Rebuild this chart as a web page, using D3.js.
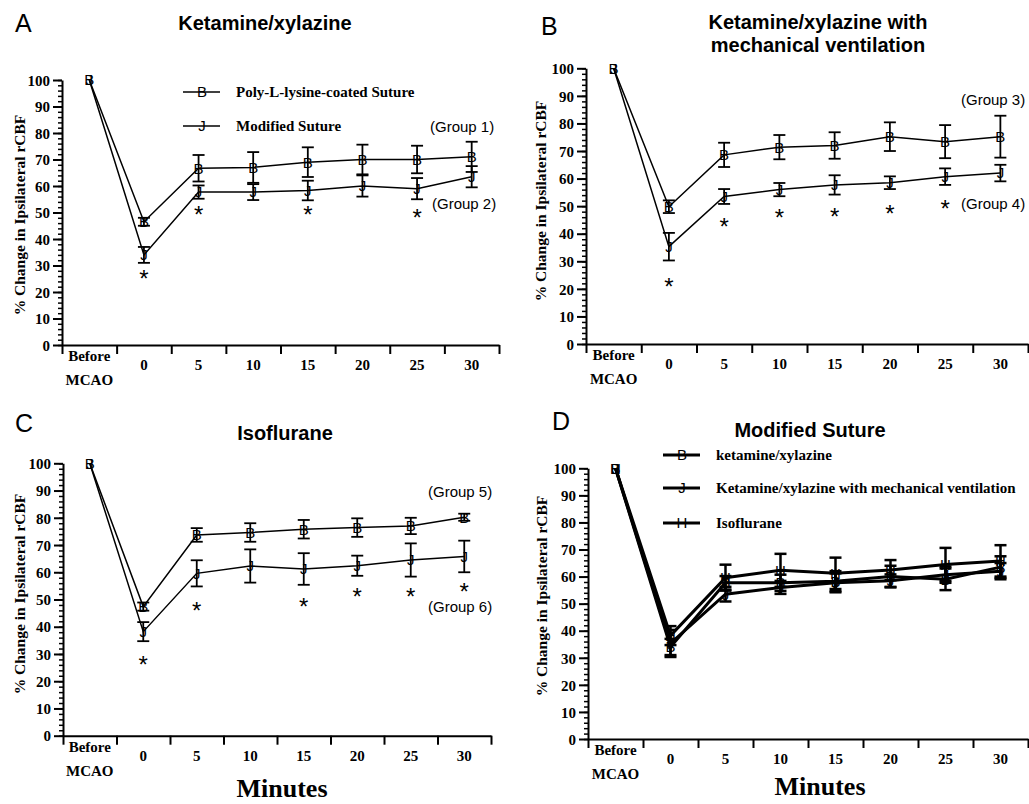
<!DOCTYPE html>
<html>
<head>
<meta charset="utf-8">
<script src="https://cdn.jsdelivr.net/npm/d3@7"></script>
<style>
body { margin: 0; background: #fff; }
svg { display: block; }
</style>
</head>
<body>
<script>
// categories on the x axis (first one is "Before MCAO")
var categories = ["Before", "0", "5", "10", "15", "20", "25", "30"];
var yMajor = d3.range(0, 101, 10);
var yMinor = d3.range(0, 101, 2);

// group means and SEM, % change in ipsilateral rCBF
var g1Mean = [100, 46.5, 66.7, 67.0, 69.0, 70.0, 70.0, 71.0];
var g1Err  = [0, 1.5, 5.0, 5.8, 5.6, 5.6, 5.2, 5.7];
var g2Mean = [100, 34.0, 57.7, 57.7, 58.3, 60.0, 59.0, 63.5];
var g2Err  = [0, 3.0, 2.5, 3.0, 3.7, 4.0, 4.0, 4.0];
var g3Mean = [100, 49.8, 68.6, 71.4, 72.0, 75.2, 73.4, 75.2];
var g3Err  = [0, 2.3, 4.4, 4.4, 4.8, 5.2, 6.0, 7.6];
var g4Mean = [100, 35.3, 53.5, 56.0, 57.7, 58.5, 60.7, 62.0];
var g4Err  = [0, 5.0, 2.7, 2.4, 3.5, 2.3, 3.0, 3.0];
var g5Mean = [100, 47.4, 73.7, 74.6, 75.8, 76.4, 77.0, 80.2];
var g5Err  = [0, 1.5, 2.5, 3.4, 3.4, 3.4, 3.0, 1.3];
var g6Mean = [100, 38.2, 59.6, 62.3, 61.2, 62.4, 64.5, 65.8];
var g6Err  = [0, 3.5, 4.8, 6.1, 5.8, 3.7, 6.1, 5.8];

// significance stars: category index and height (in % units)
var starsA = [[1, 26.8], [2, 51], [4, 51], [6, 50]];
var starsB = [[1, 22.6], [2, 44.4], [3, 47.4], [4, 48], [5, 48.8], [6, 50.8]];
var starsC = [[1, 27.8], [2, 47.5], [4, 49.2], [5, 52.9], [6, 52.9], [7, 54.7]];

var serif = "'Liberation Serif', 'Times New Roman', serif";
var sans = "'Liberation Sans', Arial, sans-serif";

var svg = d3.select("body").append("svg")
    .attr("width", 1029)
    .attr("height", 804);

var panels = [
  { letter: "A", lx: 15, ly: 32, title: ["Ketamine/xylazine"], tx: 265, ty: 30,
    left: 62, right: 499, top: 80, bottom: 345, labY: 215, labX: 25, lw: 1.5,
    series: [{ mean: g1Mean, err: g1Err, glyph: "B" }, { mean: g2Mean, err: g2Err, glyph: "J" }],
    stars: starsA,
    legend: [{ text: "Poly-L-lysine-coated Suture", glyph: "B", x: 183, y: 92 },
             { text: "Modified Suture", glyph: "J", x: 183, y: 126 }],
    groups: [{ text: "(Group 1)", x: 430, y: 132 }, { text: "(Group 2)", x: 432, y: 209 }],
    minutes: null },
  { letter: "B", lx: 541, ly: 35, title: ["Ketamine/xylazine with", "mechanical ventilation"], tx: 818, ty: 29,
    left: 586, right: 1028, top: 68.3, bottom: 344, labY: 201, labX: 546, lw: 1.5,
    series: [{ mean: g3Mean, err: g3Err, glyph: "B" }, { mean: g4Mean, err: g4Err, glyph: "J" }],
    stars: starsB, legend: [],
    groups: [{ text: "(Group 3)", x: 961, y: 105 }, { text: "(Group 4)", x: 961, y: 209 }],
    minutes: null },
  { letter: "C", lx: 15, ly: 432, title: ["Isoflurane"], tx: 285, ty: 440,
    left: 63, right: 491, top: 463.3, bottom: 735.7, labY: 594, labX: 25, lw: 1.5,
    series: [{ mean: g5Mean, err: g5Err, glyph: "B" }, { mean: g6Mean, err: g6Err, glyph: "J" }],
    stars: starsC, legend: [],
    groups: [{ text: "(Group 5)", x: 428, y: 497 }, { text: "(Group 6)", x: 428, y: 612 }],
    minutes: { x: 282, y: 797 } },
  { letter: "D", lx: 552, ly: 430, title: ["Modified Suture"], tx: 810, ty: 437,
    left: 588, right: 1028, top: 468.3, bottom: 739, labY: 596, labX: 547, lw: 3,
    series: [{ mean: g2Mean, err: g2Err, glyph: "B" }, { mean: g4Mean, err: g4Err, glyph: "J" },
             { mean: g6Mean, err: g6Err, glyph: "H" }],
    stars: [],
    legend: [{ text: "ketamine/xylazine", glyph: "B", x: 663, y: 455 },
             { text: "Ketamine/xylazine with mechanical ventilation", glyph: "J", x: 663, y: 488 },
             { text: "Isoflurane", glyph: "H", x: 663, y: 523 }],
    groups: [],
    minutes: { x: 820, y: 795 } }
];

function drawGlyph(g, ch, cx, cy) {
  g.append("text")
      .attr("x", cx)
      .attr("y", cy)
      .attr("dy", "0.36em")
      .attr("text-anchor", "middle")
      .style("font-family", sans)
      .style("font-size", "15px")
      .text(ch);
}

panels.forEach(function(p) {
  var g = svg.append("g");
  var x = d3.scaleBand().domain(categories).range([p.left, p.right]);
  var xt = d3.scaleLinear().domain([0, categories.length]).range([p.left, p.right]);
  var y = d3.scaleLinear().domain([0, 100]).range([p.bottom, p.top]);
  var cx = function(i) { return x(categories[i]) + x.bandwidth() / 2; };

  // panel letter and title
  g.append("text").attr("x", p.lx).attr("y", p.ly)
      .style("font-family", sans).style("font-size", "25px").text(p.letter);
  p.title.forEach(function(t, i) {
    g.append("text").attr("x", p.tx).attr("y", p.ty + i * 23)
        .attr("text-anchor", "middle")
        .style("font-family", sans).style("font-weight", "bold").style("font-size", "20px")
        .text(t);
  });

  // y axis: minor then major ticks
  var yMin = g.append("g").attr("transform", "translate(" + p.left + ",0)")
      .call(d3.axisLeft(y).tickValues(yMinor).tickSize(4).tickSizeOuter(0).tickFormat(""));
  yMin.select(".domain").remove();
  yMin.selectAll("line").attr("stroke-width", 1.5);

  var yAx = g.append("g").attr("transform", "translate(" + p.left + ",0)")
      .call(d3.axisLeft(y).tickValues(yMajor).tickSize(9).tickPadding(3).tickSizeOuter(0));
  yAx.select(".domain").attr("stroke-width", 2);
  yAx.selectAll("line").attr("stroke-width", 2);
  yAx.selectAll("text")
      .attr("dy", "0.35em")
      .style("font-family", serif).style("font-weight", "bold").style("font-size", "15px");

  // x axis with ticks on band edges
  var xAx = g.append("g").attr("transform", "translate(0," + p.bottom + ")")
      .call(d3.axisBottom(xt).tickValues(d3.range(0, categories.length + 1)).tickSize(9).tickSizeOuter(0).tickFormat(""));
  xAx.select(".domain").attr("stroke-width", 2);
  xAx.selectAll("line").attr("stroke-width", 2);

  var xl = g.append("g")
      .style("font-family", serif).style("font-weight", "bold").style("font-size", "15px")
      .attr("text-anchor", "middle");
  categories.forEach(function(c, i) {
    xl.append("text").attr("x", cx(i)).attr("y", p.bottom + (i === 0 ? 16 : 25)).text(c);
  });
  xl.append("text").attr("x", cx(0)).attr("y", p.bottom + 40).text("MCAO");

  // y label
  g.append("text")
      .attr("transform", "translate(" + p.labX + "," + p.labY + ") rotate(-90)")
      .attr("text-anchor", "middle")
      .style("font-family", serif).style("font-weight", "bold").style("font-size", "15.5px")
      .text("% Change in Ipsilateral rCBF");

  if (p.minutes) {
    g.append("text").attr("x", p.minutes.x).attr("y", p.minutes.y)
        .attr("text-anchor", "middle")
        .style("font-family", serif).style("font-weight", "bold").style("font-size", "26px")
        .text("Minutes");
  }

  // series
  var line = d3.line()
      .x(function(d, i) { return cx(i); })
      .y(function(d) { return y(d); });

  p.series.forEach(function(s) {
    g.append("path")
        .attr("d", line(s.mean))
        .attr("fill", "none")
        .attr("stroke", "#000")
        .attr("stroke-width", p.lw);

    var eb = g.append("g").attr("stroke", "#000").attr("stroke-width", p.lw === 3 ? 2.5 : 1.8);
    s.mean.forEach(function(m, i) {
      if (!s.err[i]) return;
      var xx = cx(i), y0 = y(m - s.err[i]), y1 = y(m + s.err[i]);
      eb.append("line").attr("x1", xx).attr("x2", xx).attr("y1", y0).attr("y2", y1);
      eb.append("line").attr("x1", xx - 6).attr("x2", xx + 6).attr("y1", y0).attr("y2", y0);
      eb.append("line").attr("x1", xx - 6).attr("x2", xx + 6).attr("y1", y1).attr("y2", y1);
    });
    s.mean.forEach(function(m, i) { drawGlyph(g, s.glyph, cx(i), y(m)); });
  });

  // significance stars
  p.stars.forEach(function(st) {
    g.append("text")
        .attr("x", cx(st[0]))
        .attr("y", y(st[1]) + 13)
        .attr("text-anchor", "middle")
        .style("font-family", sans).style("font-size", "24px")
        .text("*");
  });

  // legend
  p.legend.forEach(function(l) {
    g.append("line")
        .attr("x1", l.x).attr("x2", l.x + 37).attr("y1", l.y).attr("y2", l.y)
        .attr("stroke", "#000").attr("stroke-width", p.lw);
    drawGlyph(g, l.glyph, l.x + 19, l.y);
    g.append("text").attr("x", l.x + 53).attr("y", l.y).attr("dy", "0.33em")
        .style("font-family", serif).style("font-weight", "bold").style("font-size", "15px")
        .text(l.text);
  });

  // group annotations
  p.groups.forEach(function(gr) {
    g.append("text").attr("x", gr.x).attr("y", gr.y)
        .style("font-family", sans).style("font-size", "15px")
        .text(gr.text);
  });
});
</script>
</body>
</html>
